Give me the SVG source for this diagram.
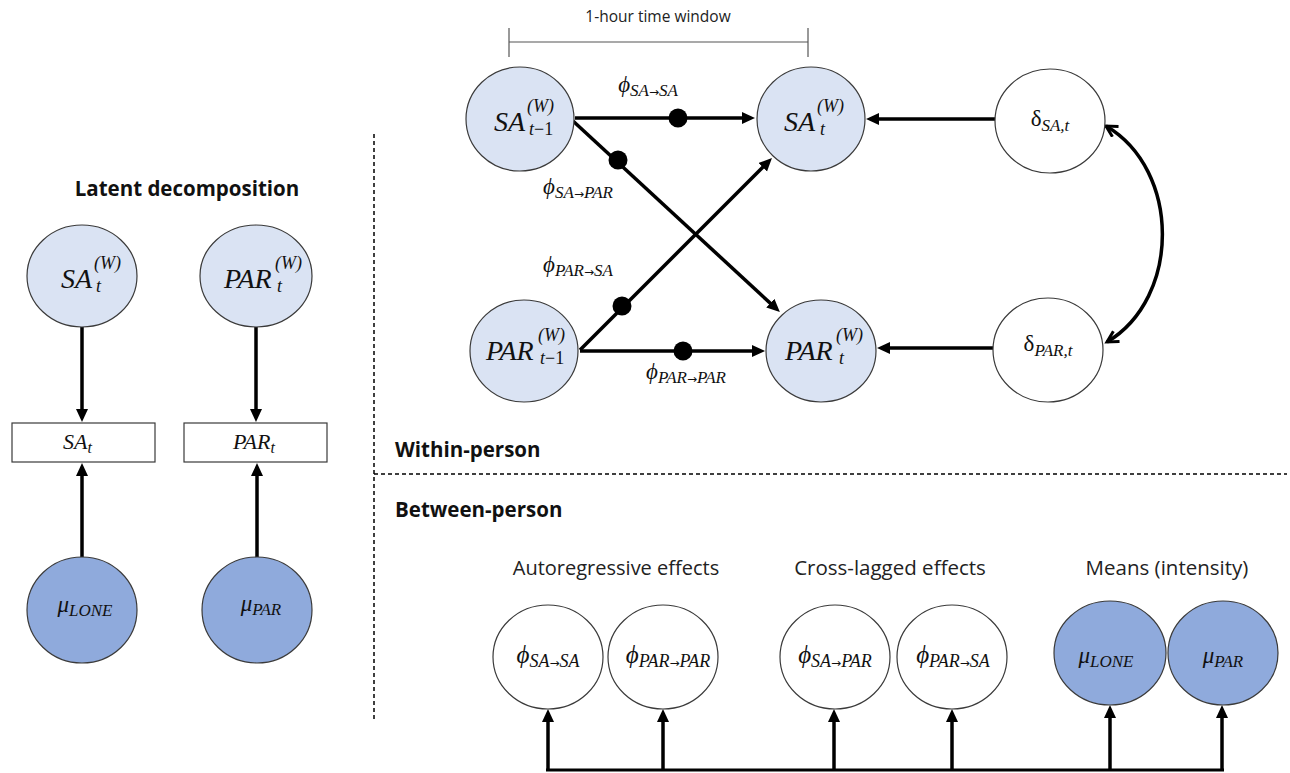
<svg xmlns="http://www.w3.org/2000/svg" width="1290" height="773" viewBox="0 0 1290 773">
<style>
.nl{fill:#dae3f3;stroke:#3a3a3a;stroke-width:1.2}
.nd{fill:#8faadc;stroke:#3a3a3a;stroke-width:1.2}
.nw{fill:#ffffff;stroke:#3a3a3a;stroke-width:1.2}
.bx{fill:#ffffff;stroke:#3a3a3a;stroke-width:1.2}
.m{font-family:"Liberation Serif","DejaVu Serif",serif;font-style:italic;fill:#111}
.up{font-style:normal}
.arw{font-family:"DejaVu Sans",sans-serif;font-style:normal;font-size:12px}
.s{font-family:"Open Sans","Liberation Sans",sans-serif;fill:#222}
.b{font-family:"Open Sans","Liberation Sans",sans-serif;font-weight:bold;fill:#111;font-size:20.5px}
.ar{stroke:#000;stroke-width:3.5;fill:none}
.dash{stroke:#000;stroke-width:1.5;stroke-dasharray:4 3;fill:none}
.dot{fill:#000}
</style>
<defs>
<marker id="ah" markerUnits="userSpaceOnUse" markerWidth="14" markerHeight="13" refX="5" refY="6" orient="auto">
<path d="M0,0 L13,6 L0,12 z" fill="#000"/>
</marker>
<marker id="av" markerUnits="userSpaceOnUse" markerWidth="16" markerHeight="16" refX="12" refY="7" orient="auto-start-reverse">
<path d="M1,1 L12,7 L1,13" fill="none" stroke="#000" stroke-width="3"/>
</marker>
</defs>
<rect width="1290" height="773" fill="#ffffff"/>

<g id="frame">
<line class="dash" x1="374" y1="134" x2="374" y2="722"/>
<line class="dash" x1="374" y1="474" x2="1287" y2="474"/>
<text class="b" x="187" y="196" text-anchor="middle">Latent decomposition</text>
<text class="b" x="395" y="457">Within-person</text>
<text class="b" x="395" y="517">Between-person</text>
<line x1="509" y1="42" x2="808" y2="42" stroke="#555" stroke-width="1.2"/>
<line x1="509" y1="28" x2="509" y2="57" stroke="#555" stroke-width="1.2"/>
<line x1="808" y1="28" x2="808" y2="57" stroke="#555" stroke-width="1.2"/>
<text class="s" x="658" y="22" font-size="15.5" text-anchor="middle">1-hour time window</text>
<text class="s" x="616" y="575" font-size="20" text-anchor="middle">Autoregressive effects</text>
<text class="s" x="890" y="575" font-size="20.5" text-anchor="middle">Cross-lagged effects</text>
<text class="s" x="1167" y="575" font-size="20.5" text-anchor="middle">Means (intensity)</text>
</g>

<g id="connectors">
<line class="ar" x1="575" y1="118" x2="747" y2="118" marker-end="url(#ah)"/>
<line class="ar" x1="573" y1="121" x2="774" y2="306.6" marker-end="url(#ah)"/>
<line class="ar" x1="580" y1="350" x2="766.3" y2="163.7" marker-end="url(#ah)"/>
<line class="ar" x1="580" y1="351" x2="757" y2="351" marker-end="url(#ah)"/>
<line class="ar" x1="995" y1="119" x2="874" y2="119" marker-end="url(#ah)"/>
<line class="ar" x1="993" y1="348" x2="885" y2="348" marker-end="url(#ah)"/>
<path class="ar" d="M1106,126 C1181,170 1181,298 1107,342" marker-start="url(#av)" marker-end="url(#av)"/>
<circle class="dot" cx="678" cy="118" r="9.5"/>
<circle class="dot" cx="618" cy="160" r="9.5"/>
<circle class="dot" cx="622" cy="306" r="9.5"/>
<circle class="dot" cx="683" cy="351" r="9.5"/>
<line class="ar" x1="82" y1="327" x2="82" y2="414" marker-end="url(#ah)"/>
<line class="ar" x1="256" y1="327" x2="256" y2="414" marker-end="url(#ah)"/>
<line class="ar" x1="82" y1="557" x2="82" y2="471" marker-end="url(#ah)"/>
<line class="ar" x1="257" y1="557" x2="257" y2="471" marker-end="url(#ah)"/>
<line x1="546" y1="770" x2="1224" y2="770" stroke="#000" stroke-width="3"/>
<line class="ar" x1="548" y1="770" x2="548" y2="717" marker-end="url(#ah)"/>
<line class="ar" x1="663" y1="770" x2="663" y2="717" marker-end="url(#ah)"/>
<line class="ar" x1="834" y1="770" x2="834" y2="717" marker-end="url(#ah)"/>
<line class="ar" x1="952" y1="770" x2="952" y2="717" marker-end="url(#ah)"/>
<line class="ar" x1="1110" y1="770" x2="1110" y2="713" marker-end="url(#ah)"/>
<line class="ar" x1="1222" y1="770" x2="1222" y2="713" marker-end="url(#ah)"/>
</g>

<g id="edge-labels" class="m">
<text x="648" y="92" font-size="23" text-anchor="middle">ϕ<tspan font-size="17" dy="4">SA<tspan class="arw">→</tspan>SA</tspan></text>
<text x="578" y="194" font-size="23" text-anchor="middle">ϕ<tspan font-size="17" dy="4">SA<tspan class="arw">→</tspan>PAR</tspan></text>
<text x="578" y="272" font-size="23" text-anchor="middle">ϕ<tspan font-size="17" dy="4">PAR<tspan class="arw">→</tspan>SA</tspan></text>
<text x="686" y="379" font-size="23" text-anchor="middle">ϕ<tspan font-size="17" dy="4">PAR<tspan class="arw">→</tspan>PAR</tspan></text>
</g>

<g id="SA_tm1">
<ellipse class="nl" cx="520" cy="119" rx="54" ry="52"/>
<text class="m" x="494" y="131" font-size="28">SA</text>
<text class="m" x="527" y="112" font-size="18">(W)</text>
<text class="m" x="529" y="135" font-size="18">t<tspan class="up">−1</tspan></text>
</g>
<g id="SA_t">
<ellipse class="nl" cx="811" cy="119" rx="54" ry="52"/>
<text class="m" x="784" y="131" font-size="28">SA</text>
<text class="m" x="817" y="112" font-size="18">(W)</text>
<text class="m" x="820" y="135" font-size="18">t</text>
</g>
<g id="delta_SA">
<ellipse class="nw" cx="1050" cy="121" rx="55" ry="52"/>
<text class="m" x="1050" y="126" font-size="23" text-anchor="middle"><tspan class="up">δ</tspan><tspan font-size="17" dy="5">SA,t</tspan></text>
</g>
<g id="PAR_tm1">
<ellipse class="nl" cx="524" cy="351" rx="54" ry="51"/>
<text class="m" x="486" y="360" font-size="28">PAR</text>
<text class="m" x="538" y="341" font-size="18">(W)</text>
<text class="m" x="540" y="364" font-size="18">t<tspan class="up">−1</tspan></text>
</g>
<g id="PAR_t">
<ellipse class="nl" cx="821" cy="351" rx="55" ry="51"/>
<text class="m" x="785" y="360" font-size="28">PAR</text>
<text class="m" x="836" y="341" font-size="18">(W)</text>
<text class="m" x="839" y="364" font-size="18">t</text>
</g>
<g id="delta_PAR">
<ellipse class="nw" cx="1048" cy="350" rx="55" ry="52"/>
<text class="m" x="1048" y="351" font-size="23" text-anchor="middle"><tspan class="up">δ</tspan><tspan font-size="17" dy="5">PAR,t</tspan></text>
</g>

<g id="L_SA_W">
<ellipse class="nl" cx="82" cy="276" rx="55" ry="51"/>
<text class="m" x="61" y="288" font-size="28">SA</text>
<text class="m" x="94" y="269" font-size="18">(W)</text>
<text class="m" x="96" y="292" font-size="18">t</text>
</g>
<g id="L_PAR_W">
<ellipse class="nl" cx="256" cy="276" rx="56" ry="51"/>
<text class="m" x="224" y="288" font-size="28">PAR</text>
<text class="m" x="275" y="269" font-size="18">(W)</text>
<text class="m" x="277" y="292" font-size="18">t</text>
</g>
<g id="L_SA_obs">
<rect class="bx" x="12" y="423" width="143" height="39"/>
<text class="m" x="63" y="449" font-size="22">SA<tspan font-size="16" dy="4">t</tspan></text>
</g>
<g id="L_PAR_obs">
<rect class="bx" x="184" y="423" width="143" height="39"/>
<text class="m" x="233" y="449" font-size="22">PAR<tspan font-size="16" dy="4">t</tspan></text>
</g>
<g id="L_mu_LONE">
<ellipse class="nd" cx="82" cy="610" rx="55" ry="53"/>
<text class="m" x="85" y="612" font-size="23" text-anchor="middle">μ<tspan font-size="17" dy="4">LONE</tspan></text>
</g>
<g id="L_mu_PAR">
<ellipse class="nd" cx="257" cy="610" rx="55" ry="53"/>
<text class="m" x="261" y="611" font-size="23" text-anchor="middle">μ<tspan font-size="17" dy="4">PAR</tspan></text>
</g>

<g id="B_phi_SASA">
<ellipse class="nw" cx="548" cy="657" rx="55" ry="52"/>
<text class="m" x="548" y="663" font-size="25" text-anchor="middle">ϕ<tspan font-size="18" dy="4">SA<tspan class="arw">→</tspan>SA</tspan></text>
</g>
<g id="B_phi_PARPAR">
<ellipse class="nw" cx="663" cy="657" rx="55" ry="52"/>
<text class="m" x="668" y="663" font-size="25" text-anchor="middle">ϕ<tspan font-size="18" dy="4">PAR<tspan class="arw">→</tspan>PAR</tspan></text>
</g>
<g id="B_phi_SAPAR">
<ellipse class="nw" cx="835" cy="657" rx="55" ry="52"/>
<text class="m" x="835" y="663" font-size="25" text-anchor="middle">ϕ<tspan font-size="18" dy="4">SA<tspan class="arw">→</tspan>PAR</tspan></text>
</g>
<g id="B_phi_PARSA">
<ellipse class="nw" cx="952" cy="657" rx="55" ry="52"/>
<text class="m" x="953" y="663" font-size="25" text-anchor="middle">ϕ<tspan font-size="18" dy="4">PAR<tspan class="arw">→</tspan>SA</tspan></text>
</g>
<g id="B_mu_LONE">
<ellipse class="nd" cx="1110" cy="653" rx="56" ry="52"/>
<text class="m" x="1106" y="663" font-size="23" text-anchor="middle">μ<tspan font-size="17" dy="4">LONE</tspan></text>
</g>
<g id="B_mu_PAR">
<ellipse class="nd" cx="1223" cy="653" rx="55" ry="52"/>
<text class="m" x="1223" y="663" font-size="23" text-anchor="middle">μ<tspan font-size="17" dy="4">PAR</tspan></text>
</g>
</svg>
